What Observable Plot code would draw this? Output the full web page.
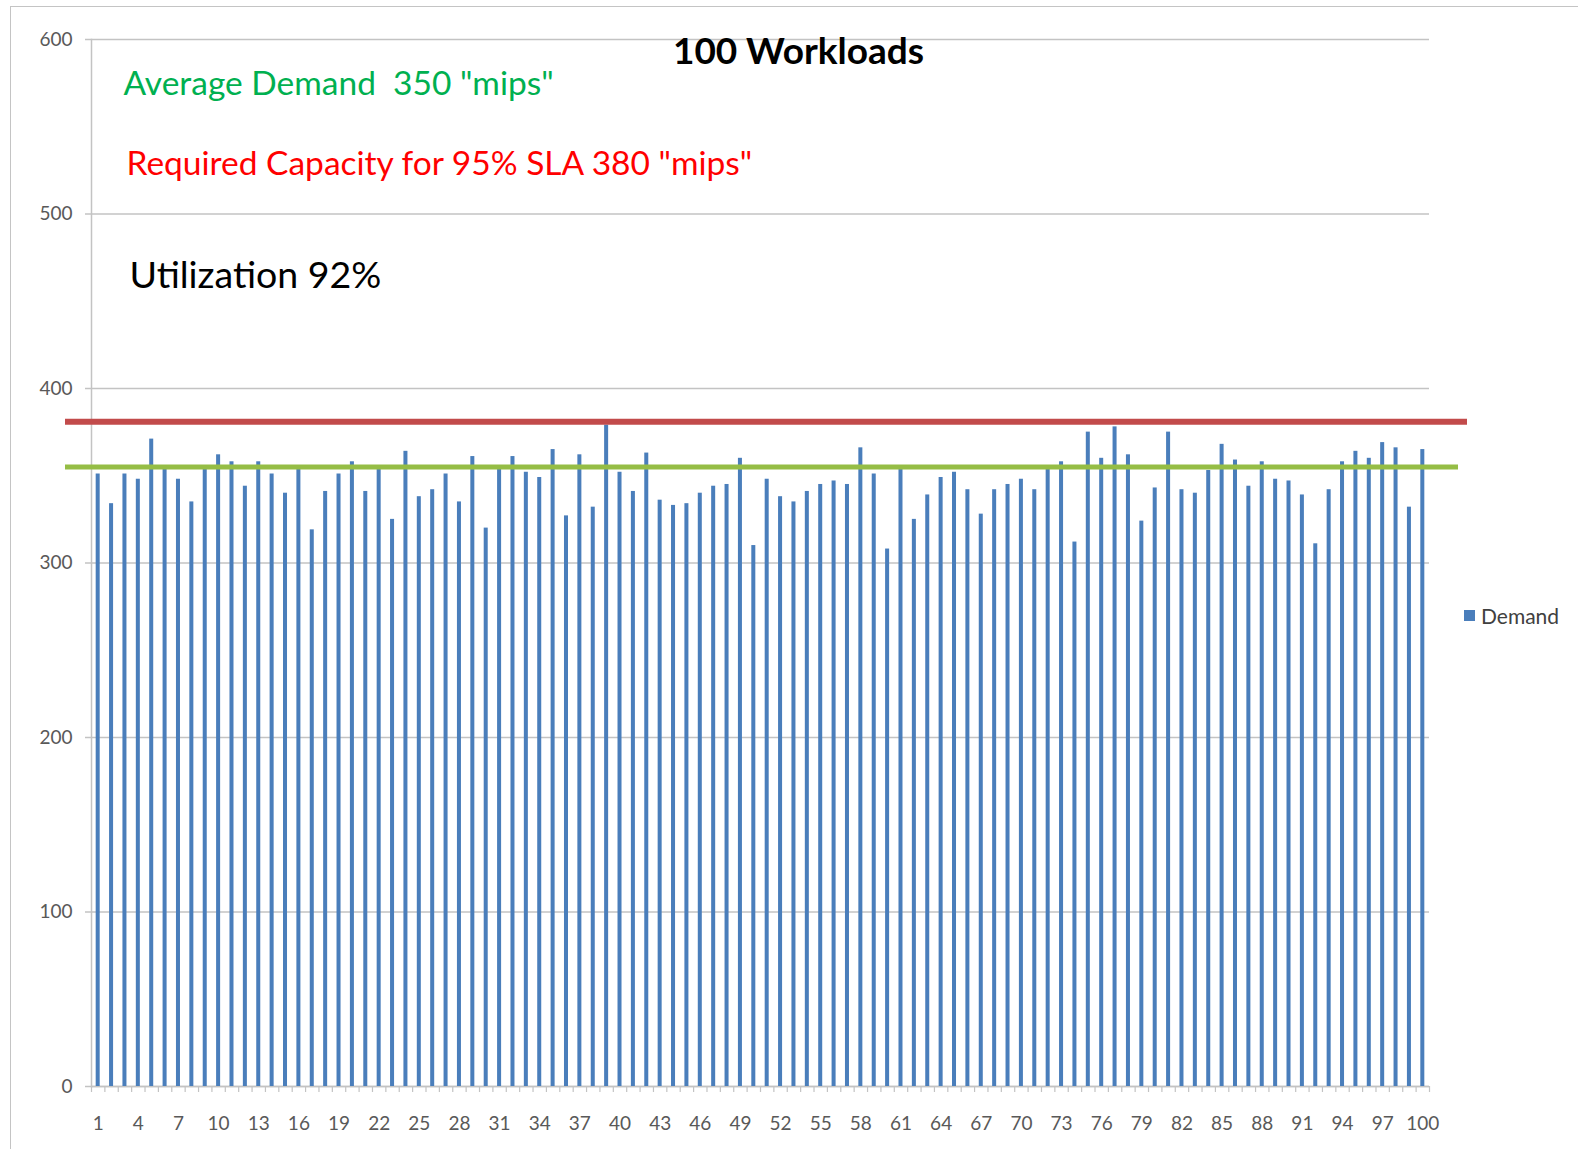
<!DOCTYPE html>
<html><head><meta charset="utf-8">
<script src="https://cdn.jsdelivr.net/npm/d3@7"></script>
<script src="https://cdn.jsdelivr.net/npm/@observablehq/plot@0.6"></script>
<style>
body{margin:0;background:#fff;}
#wrap{position:relative;width:1578px;height:1149px;overflow:hidden;background:#fff;font-family:Lato,"Open Sans",sans-serif}
#border{position:absolute;left:10px;top:6px;width:1600px;height:1200px;border:1.5px solid #c4c4c4;box-sizing:border-box}
#chart{position:absolute;left:0;top:0}
#legend{position:absolute;left:1464px;top:603px;font-size:21px;color:#404040;display:flex;align-items:center;gap:6px}
#legend .sw{width:11px;height:11px;background:#4a7ebb}
</style></head><body>
<div id="wrap"><div id="border"></div><div id="chart"></div>
<div id="legend"><span class="sw"></span><span id="legendLabel"></span></div></div>
<script>
const workloads = [1,2,3,4,5,6,7,8,9,10,11,12,13,14,15,16,17,18,19,20,21,22,23,24,25,26,27,28,29,30,31,32,33,34,35,36,37,38,39,40,41,42,43,44,45,46,47,48,49,50,51,52,53,54,55,56,57,58,59,60,61,62,63,64,65,66,67,68,69,70,71,72,73,74,75,76,77,78,79,80,81,82,83,84,85,86,87,88,89,90,91,92,93,94,95,96,97,98,99,100];
const demand = [351,334,351,348,371,354,348,335,354,362,358,344,358,351,340,354,319,341,351,358,341,354,325,364,338,342,351,335,361,320,354,361,352,349,365,327,362,332,379,352,341,363,336,333,334,340,344,345,360,310,348,338,335,341,345,347,345,366,351,308,354,325,339,349,352,342,328,342,345,348,342,354,358,312,375,360,378,362,324,343,375,342,340,353,368,359,344,358,348,347,339,311,342,358,364,360,369,366,332,365];
const xTickLabels = [1,4,7,10,13,16,19,22,25,28,31,34,37,40,43,46,49,52,55,58,61,64,67,70,73,76,79,82,85,88,91,94,97,100];
const yTicks = [0,100,200,300,400,500,600];
const averageLine = [355];
const capacityLine = [381];
const titleText = ["100 Workloads"];
const avgText = ["Average Demand  350 \"mips\""];
const capText = ["Required Capacity for 95% SLA 380 \"mips\""];
const utilText = ["Utilization 92%"];
const seriesName = "Demand";

document.getElementById("legendLabel").textContent = seriesName;

const step = (1578 - 91 - 149) / workloads.length;

const chart = Plot.plot({
  width: 1578, height: 1149,
  marginLeft: 91, marginRight: 149, marginTop: 39, marginBottom: 63,
  style: {fontFamily: "Lato, 'Open Sans', sans-serif", background: "transparent", overflow: "visible"},
  x: {type: "band", domain: workloads, paddingInner: 0.7, paddingOuter: 0.35, axis: null},
  y: {domain: [0, 600], axis: null},
  marks: [
    Plot.gridY(yTicks, {stroke: "#c3c3c3", strokeOpacity: 1, strokeWidth: 1.5}),
    Plot.axisY(yTicks, {tickSize: 6, tickPadding: 13, stroke: "#c3c3c3", strokeOpacity: 1, strokeWidth: 1.5, fill: "#595959", fontSize: 19, label: null}),
    Plot.frame({anchor: "left", stroke: "#c3c3c3", strokeWidth: 1.5}),
    Plot.ruleY([0], {stroke: "#c3c3c3", strokeWidth: 1.5}),
    Plot.axisX(workloads, {tickSize: 6, dx: -step / 2, tickFormat: () => "", stroke: "#c3c3c3", strokeWidth: 1.2, label: null}),
    Plot.axisX([100], {tickSize: 6, dx: step / 2, tickFormat: () => "", stroke: "#c3c3c3", strokeWidth: 1.2, label: null}),
    Plot.axisX(xTickLabels, {tickSize: 0, tickPadding: 30, fontSize: 19, fill: "#595959", label: null}),
    Plot.barY(demand, {x: (d, i) => workloads[i], y: d => d, fill: "#4a7ebb"}),
    Plot.ruleY(capacityLine, {stroke: "#c24b4b", strokeWidth: 6, insetLeft: -26, insetRight: -38}),
    Plot.ruleY(averageLine, {stroke: "#95bd45", strokeWidth: 5, insetLeft: -26, insetRight: -29}),
    Plot.text(titleText, {frameAnchor: "top", dx: 38, dy: 13, lineAnchor: "middle", fontSize: 37, fontWeight: "bold", fill: "#000"}),
    Plot.text(avgText, {frameAnchor: "top-left", textAnchor: "start", lineAnchor: "middle", dx: 32, dy: 45, fontSize: 33.5, fill: "#00b050"}),
    Plot.text(capText, {frameAnchor: "top-left", textAnchor: "start", lineAnchor: "middle", dx: 35, dy: 125, fontSize: 33.5, fill: "#ff0000"}),
    Plot.text(utilText, {frameAnchor: "top-left", textAnchor: "start", lineAnchor: "middle", dx: 38, dy: 236, fontSize: 37.5, fill: "#000"})
  ]
});
document.getElementById("chart").appendChild(chart);
</script>
</body></html>
